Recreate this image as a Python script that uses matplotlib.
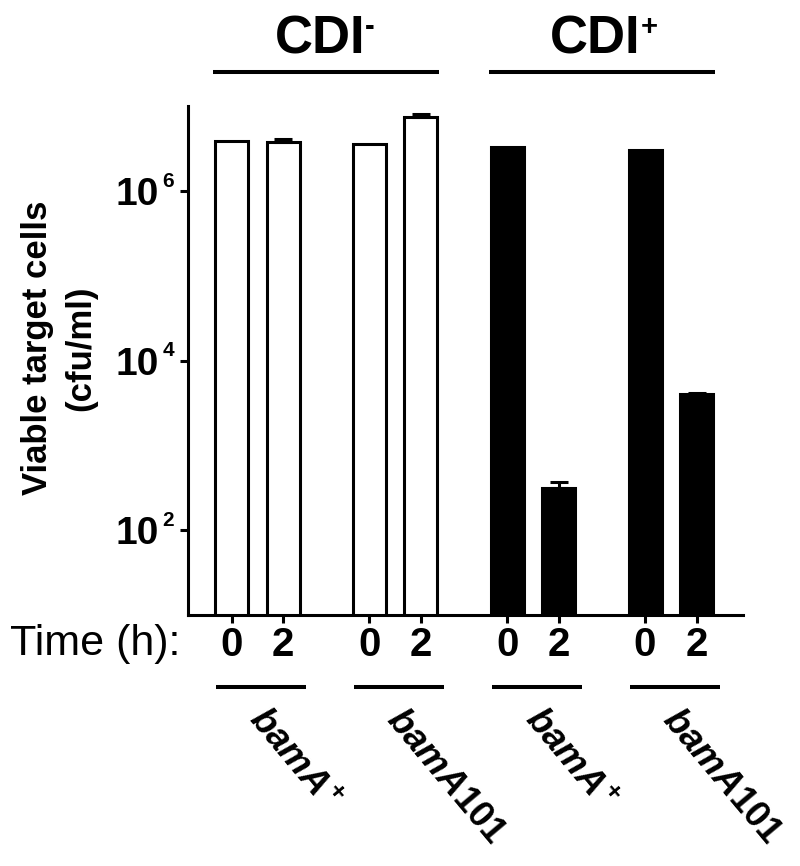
import numpy as np
import matplotlib
matplotlib.use('Agg')
import matplotlib.pyplot as plt
from matplotlib.transforms import blended_transform_factory

plt.rcParams['font.family'] = ['Liberation Sans', 'DejaVu Sans']
plt.rcParams['mathtext.fontset'] = 'custom'
plt.rcParams['mathtext.rm'] = 'Liberation Sans:bold'
plt.rcParams['mathtext.it'] = 'Liberation Sans:bold:italic'
plt.rcParams['mathtext.bf'] = 'Liberation Sans:bold'

# ---------------- data ----------------
conditions = ['CDI', 'CDI']
condition_sup = ['-', '+']
strain_labels = [r'$\mathit{bamA}^{+}$', r'$\mathit{bamA101}$',
                 r'$\mathit{bamA}^{+}$', r'$\mathit{bamA101}$']
strain_condition = [0, 0, 1, 1]
time_labels = ['0', '2']
viable_t0 = [3.83e6, 3.60e6, 3.25e6, 3.03e6]
viable_t2 = [3.77e6, 7.36e6, 314, 3990]
err_t0 = [0, 0, 0, 0]
err_t2 = [0.35e6, 0.71e6, 53, 110]
ytick_vals = [1e2, 1e4, 1e6]
bar_fill = ['white', 'black']

# ---------------- figure ----------------
fig = plt.figure(figsize=(8, 8.66), dpi=100)
ax = fig.add_axes([188 / 800, 1 - 615 / 866, 555 / 800, 509 / 866])
ax.set_yscale('log')

group_gap = 2.676
bw = 0.64
ng = len(viable_t0)
x0 = np.arange(ng) * group_gap
x2 = x0 + 1.0
colors = [bar_fill[c] for c in strain_condition]

ax.bar(x0, viable_t0, width=bw, color=colors, edgecolor='black', linewidth=2.2, zorder=2)
ax.bar(x2, viable_t2, width=bw, color=colors, edgecolor='black', linewidth=2.2, zorder=2)

for xs, vals, errs in [(x0, viable_t0, err_t0), (x2, viable_t2, err_t2)]:
    xs = np.asarray(xs); vals = np.asarray(vals); errs = np.asarray(errs)
    m = errs > 0
    if m.any():
        ax.errorbar(xs[m], vals[m], yerr=[np.zeros(m.sum()), errs[m]], fmt='none',
                    ecolor='black', elinewidth=2.2, capsize=6.5, capthick=2.2, zorder=3)

ax.set_ylim(10, 1e7)
ax.set_xlim(-0.845, 9.93)

for s in ['top', 'right']:
    ax.spines[s].set_visible(False)
for s in ['left', 'bottom']:
    ax.spines[s].set_linewidth(2.2)
    ax.spines[s].set_zorder(4)

ax.set_yticks(ytick_vals)
ax.set_yticklabels(['10'] * len(ytick_vals), fontsize=28, fontweight='bold')
ax.yaxis.set_minor_locator(matplotlib.ticker.NullLocator())
ax.tick_params(axis='y', length=5.8, width=2.2, pad=15.5)

xt = np.sort(np.concatenate([x0, x2]))
ax.set_xticks(xt)
ax.set_xticklabels(time_labels * ng, fontsize=29, fontweight='bold')
ax.tick_params(axis='x', length=5.8, width=2.2, pad=2)

# y tick superscripts
ytrans = ax.get_yaxis_transform()
for v in ytick_vals:
    ax.annotate(str(int(round(np.log10(v)))), xy=(0, v), xycoords=ytrans,
                xytext=(-18.5, 3), textcoords='offset points', ha='left', va='baseline',
                fontsize=15, fontweight='bold', annotation_clip=False)

trans = blended_transform_factory(ax.transData, ax.transAxes)

# top condition lines and labels
for c in range(len(conditions)):
    idx = [i for i in range(ng) if strain_condition[i] == c]
    left = x0[min(idx)] - bw / 2 - 0.03
    right = x2[max(idx)] + bw / 2 + 0.03
    ax.plot([left, right], [1.0668, 1.0668], transform=trans, clip_on=False,
            color='black', lw=2.9, solid_capstyle='butt')
    cx = (left + right) / 2
    t = ax.text(cx - 0.12, 1.104, conditions[c], transform=trans, ha='center',
                va='baseline', fontsize=38, fontweight='bold')
    ax.annotate(condition_sup[c], xy=(1, 1), xycoords=t, xytext=(0, -9),
                textcoords='offset points', ha='left', va='center',
                fontsize=21, fontweight='bold', annotation_clip=False)

# strain underlines and rotated labels
for i in range(ng):
    pc = (x0[i] + x2[i]) / 2 + 0.08
    ax.plot([pc - 0.874, pc + 0.874], [-0.1415, -0.1415], transform=trans,
            clip_on=False, color='black', lw=2.9, solid_capstyle='butt')
    ax.text((x0[i] + x2[i]) / 2 + 0.22, -0.171, strain_labels[i], transform=trans,
            rotation=-50, rotation_mode='anchor', ha='left', va='top', fontsize=26.5)

fig.text(59 / 800, 1 - 348 / 866, 'Viable target cells\n(cfu/ml)', rotation=90,
         ha='center', va='center', fontsize=25, fontweight='bold', linespacing=1.42)
fig.text(180 / 800, 1 - 655 / 866, 'Time (h):', ha='right', va='baseline', fontsize=31)

fig.savefig('out.png', dpi=100)
